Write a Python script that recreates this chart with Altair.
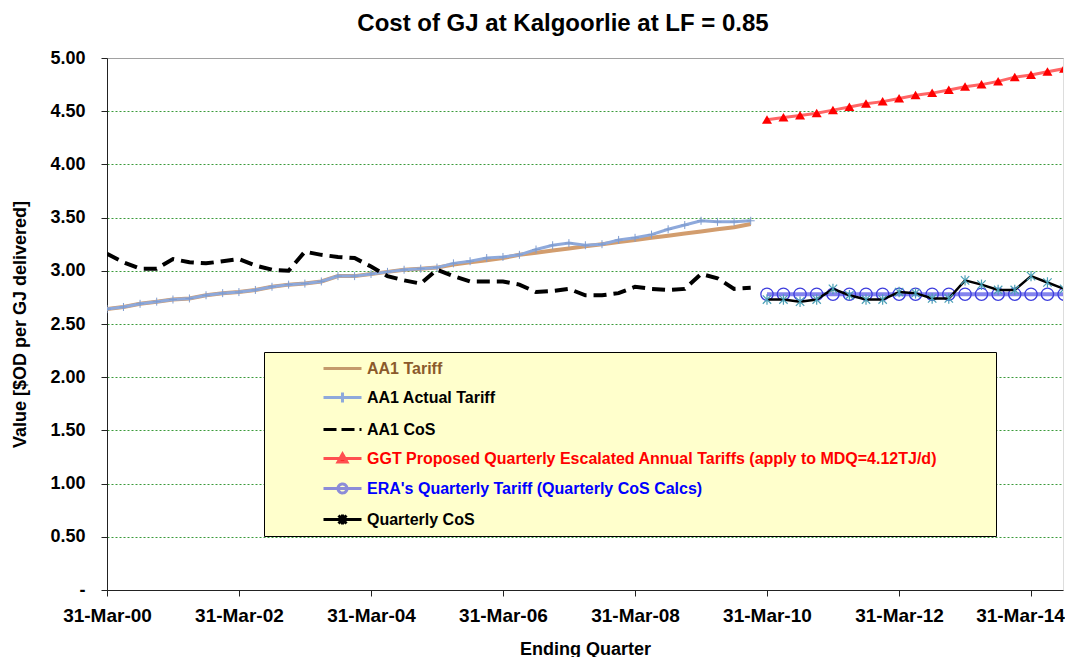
import json
import altair as alt
import pandas as pd

FONT = "Liberation Sans"

QUARTER_ENDS = ["03-31", "06-30", "09-30", "12-31"]

SERIES = [
    "AA1 Tariff",
    "AA1 Actual  Tariff",
    "AA1 CoS",
    "GGT Proposed  Quarterly Escalated Annual Tariffs (apply to MDQ=4.12TJ/d)",
    "ERA's Quarterly Tariff (Quarterly CoS Calcs)",
    "Quarterly CoS",
]

# index of first quarter of each series (0 = quarter ending 31-Mar-00)
START_Q = [0, 0, 0, 40, 40, 40]

aa1_tariff = [2.64, 2.66, 2.69, 2.71, 2.73, 2.74, 2.77, 2.79, 2.80, 2.82,
              2.85, 2.87, 2.88, 2.90, 2.95, 2.95, 2.97, 2.99, 3.01, 3.02,
              3.03, 3.06, 3.08, 3.10, 3.12, 3.15, 3.17, 3.19, 3.21, 3.23,
              3.25, 3.27, 3.29, 3.31, 3.33, 3.35, 3.37, 3.39, 3.41, 3.44]
aa1_actual = [2.64, 2.66, 2.69, 2.71, 2.73, 2.74, 2.77, 2.79, 2.80, 2.82,
              2.85, 2.87, 2.88, 2.90, 2.95, 2.95, 2.97, 2.99, 3.01, 3.02,
              3.03, 3.07, 3.09, 3.12, 3.13, 3.15, 3.20, 3.24, 3.26, 3.24,
              3.25, 3.29, 3.31, 3.34, 3.39, 3.43, 3.47, 3.46, 3.46, 3.47]
aa1_cos = [3.16, 3.08, 3.02, 3.02, 3.11, 3.08, 3.07, 3.09, 3.11, 3.05,
           3.01, 3.00, 3.18, 3.15, 3.13, 3.12, 3.04, 2.95, 2.91, 2.88,
           3.01, 2.95, 2.90, 2.90, 2.90, 2.87, 2.80, 2.81, 2.83, 2.77,
           2.77, 2.79, 2.85, 2.83, 2.82, 2.83, 2.97, 2.93, 2.83, 2.84]
ggt_proposed = [4.42, 4.44, 4.46, 4.48, 4.51, 4.54, 4.57, 4.59, 4.62, 4.65,
                4.67, 4.70, 4.73, 4.75, 4.78, 4.82, 4.84, 4.87, 4.90, 4.93]
era_tariff = [2.78, 2.78, 2.78, 2.78, 2.78, 2.78, 2.78, 2.78, 2.78, 2.78,
              2.78, 2.78, 2.78, 2.78, 2.78, 2.78, 2.78, 2.78, 2.78, 2.78]
quarterly_cos = [2.73, 2.73, 2.71, 2.73, 2.83, 2.77, 2.73, 2.73, 2.80, 2.79,
                 2.74, 2.74, 2.91, 2.87, 2.82, 2.82, 2.95, 2.89, 2.83, 2.83]

VALUES = [aa1_tariff, aa1_actual, aa1_cos, ggt_proposed, era_tariff, quarterly_cos]


def qdate(q):
    return f"{2000 + q // 4}-{QUARTER_ENDS[q % 4]}"


rows = []
for name, start, vals in zip(SERIES, START_Q, VALUES):
    for i, v in enumerate(vals):
        rows.append({"date": qdate(start + i), "value": v, "series": name})
df = pd.DataFrame(rows)

# ---------------- axes / scales ----------------
x_scale = alt.Scale(
    type="utc",
    domain=[alt.DateTime(year=2000, month=3, date=31, utc=True),
            alt.DateTime(year=2014, month=9, date=24, utc=True)],
    nice=False,
)
x_axis = alt.Axis(
    values=[alt.DateTime(year=y, month=3, date=31, utc=True) for y in range(2000, 2015, 2)],
    format="%d-%b-%y",
    grid=False,
    labelFont=FONT, labelFontSize=19, labelFontWeight="bold", labelColor="#000000",
    labelPadding=10, labelFlush=False, labelOverlap=False,
    # last label nudged left so it stays inside the page
    labelOffset=alt.condition("datum.value > utc(2013, 0, 1)", alt.value(-11), alt.value(0)),
    tickSize=6, tickColor="#222222", domainColor="#222222",
    title="Ending Quarter", titleFont=FONT, titleFontSize=18, titleFontWeight="bold",
    titleColor="#000000", titlePadding=15,
)
y_scale = alt.Scale(domain=[0, 5], nice=False, zero=True)
y_axis = alt.Axis(
    values=[0, 0.5, 1, 1.5, 2, 2.5, 3, 3.5, 4, 4.5, 5],
    labelExpr="datum.value == 0 ? '-' : format(datum.value, '.2f')",
    grid=True,
    gridColor=alt.condition("datum.value >= 5", alt.value("#8c8c8c"), alt.value("#3a9a3a")),
    gridDash=alt.condition("datum.value >= 5", alt.value([1, 0]), alt.value([2, 2])),
    gridWidth=1,
    labelFont=FONT, labelFontSize=18, labelFontWeight="bold", labelColor="#000000",
    labelPadding=16,
    tickSize=6, tickColor="#222222", domainColor="#222222",
    title="Value [$OD per GJ delivered]", titleFont=FONT, titleFontSize=18,
    titleFontWeight="bold", titleColor="#000000", titlePadding=20,
)

X = alt.X("date:T", scale=x_scale, axis=x_axis)
Y = alt.Y("value:Q", scale=y_scale, axis=y_axis)

base = alt.Chart(df).encode(x=X, y=Y)


def sel(i):
    return base.transform_filter(alt.datum.series == SERIES[i])


PLUS = "M-1,0L1,0M0,-1L0,1"
TRI = "M0,-0.9L1,0.8L-1,0.8Z"
STAR = "M-0.8,-0.8L0.8,0.8M-0.8,0.8L0.8,-0.8M0,-1L0,1"

l_tariff = sel(0).mark_line(color="#D29D6E", strokeWidth=4, clip=True)
l_actual = sel(1).mark_line(color="#8EA9DB", strokeWidth=3, clip=True)
p_actual = sel(1).mark_point(shape=PLUS, size=64, filled=False, color="#7F9CCF",
                             strokeWidth=1, opacity=1, clip=True)
l_cos = sel(2).mark_line(color="#000000", strokeWidth=4, strokeDash=[13, 7], clip=True)
l_ggt = sel(3).mark_line(color="#FF6666", strokeWidth=3, clip=True)
p_ggt = sel(3).mark_point(shape=TRI, size=100, filled=True, color="#FF0000",
                          opacity=1, clip=True)
l_era = sel(4).mark_line(color="#8484EE", strokeWidth=4, clip=True)
p_era = sel(4).mark_point(shape="circle", size=150, filled=False, color="#3C3CDC",
                          strokeWidth=1.3, opacity=1, clip=True)
l_qcos = sel(5).mark_line(color="#000000", strokeWidth=2.5, clip=True)
p_qcos = sel(5).mark_point(shape=STAR, size=110, filled=False, color="#4A9FB5",
                           strokeWidth=1.2, opacity=1, clip=True)

# ---------------- legend (styled per entry) ----------------
LEGEND_PATHS = [
    "M-1.9,0L1.9,0",
    "M-1.9,0L1.9,0M0,-0.5L0,0.5",
    "M-1.9,0L1.9,0",
    "M-1.9,0L1.9,0M-0.45,0.35L0,-0.45L0.45,0.35Z",
    "M-1.9,0L1.9,0M0.45,0A0.45,0.45,0,1,1,-0.45,0A0.45,0.45,0,1,1,0.45,0",
    "M-1.9,0L1.9,0M-0.4,-0.4L0.4,0.4M-0.4,0.4L0.4,-0.4M0,-0.5L0,0.5",
]
LEGEND_STROKES = ["#C49A6C", "#8EA9DB", "#000000", "#FF5050", "#8C8CD8", "#000000"]
LEGEND_FILLS = ["transparent", "transparent", "transparent", "#FF0000", "#FFFFCC", "transparent"]
LEGEND_DASHES = [[1, 0], [1, 0], [13, 5], [1, 0], [1, 0], [1, 0]]
LABEL_COLORS = ["#8B5A2B", "#000000", "#000000", "#FF0000", "#0000FF", "#000000"]

label_color_expr = (
    f"{json.dumps(LABEL_COLORS)}[indexof({json.dumps(SERIES)}, datum.value)]"
)

legend = alt.Legend(
    # a blank title on the right only widens the box, as in the reference
    title=" ", titleOrient="right", titlePadding=50, titleOpacity=0,
    orient="none", legendX=157, legendY=294,
    fillColor="#FFFFCC", strokeColor="#000000", padding=5,
    symbolSize=400, symbolStrokeWidth=3, symbolOffset=62, symbolOpacity=1,
    labelOffset=13, labelFont=FONT, labelFontSize=16, labelFontWeight="bold",
    labelColor=alt.ExprRef(expr=label_color_expr), labelLimit=1000,
    rowPadding=9,
)

legend_df = pd.DataFrame({"series": SERIES})
legend_layer = alt.Chart(legend_df).mark_point(opacity=0).encode(
    shape=alt.Shape("series:N", scale=alt.Scale(domain=SERIES, range=LEGEND_PATHS), legend=legend),
    stroke=alt.Stroke("series:N", scale=alt.Scale(domain=SERIES, range=LEGEND_STROKES), legend=legend),
    fill=alt.Fill("series:N", scale=alt.Scale(domain=SERIES, range=LEGEND_FILLS), legend=legend),
    strokeDash=alt.StrokeDash("series:N", scale=alt.Scale(domain=SERIES, range=LEGEND_DASHES), legend=legend),
)

chart = alt.layer(
    l_tariff, l_actual, p_actual, l_cos, l_ggt, p_ggt, l_era, p_era, l_qcos, p_qcos,
    legend_layer,
).properties(
    width=956,
    height=532,
    autosize=alt.AutoSizeParams(type="none"),
    padding={"left": 99, "top": 50, "right": 2, "bottom": 67},
    title=alt.TitleParams(
        "Cost of GJ at Kalgoorlie at LF = 0.85",
        font=FONT, fontSize=24, fontWeight="bold", color="#000000",
        anchor="middle", dx=-22, offset=13,
    ),
).configure_view(stroke=None).configure(background="#ffffff")

chart.save("out.html", embed_options={"renderer": "svg", "actions": False})
